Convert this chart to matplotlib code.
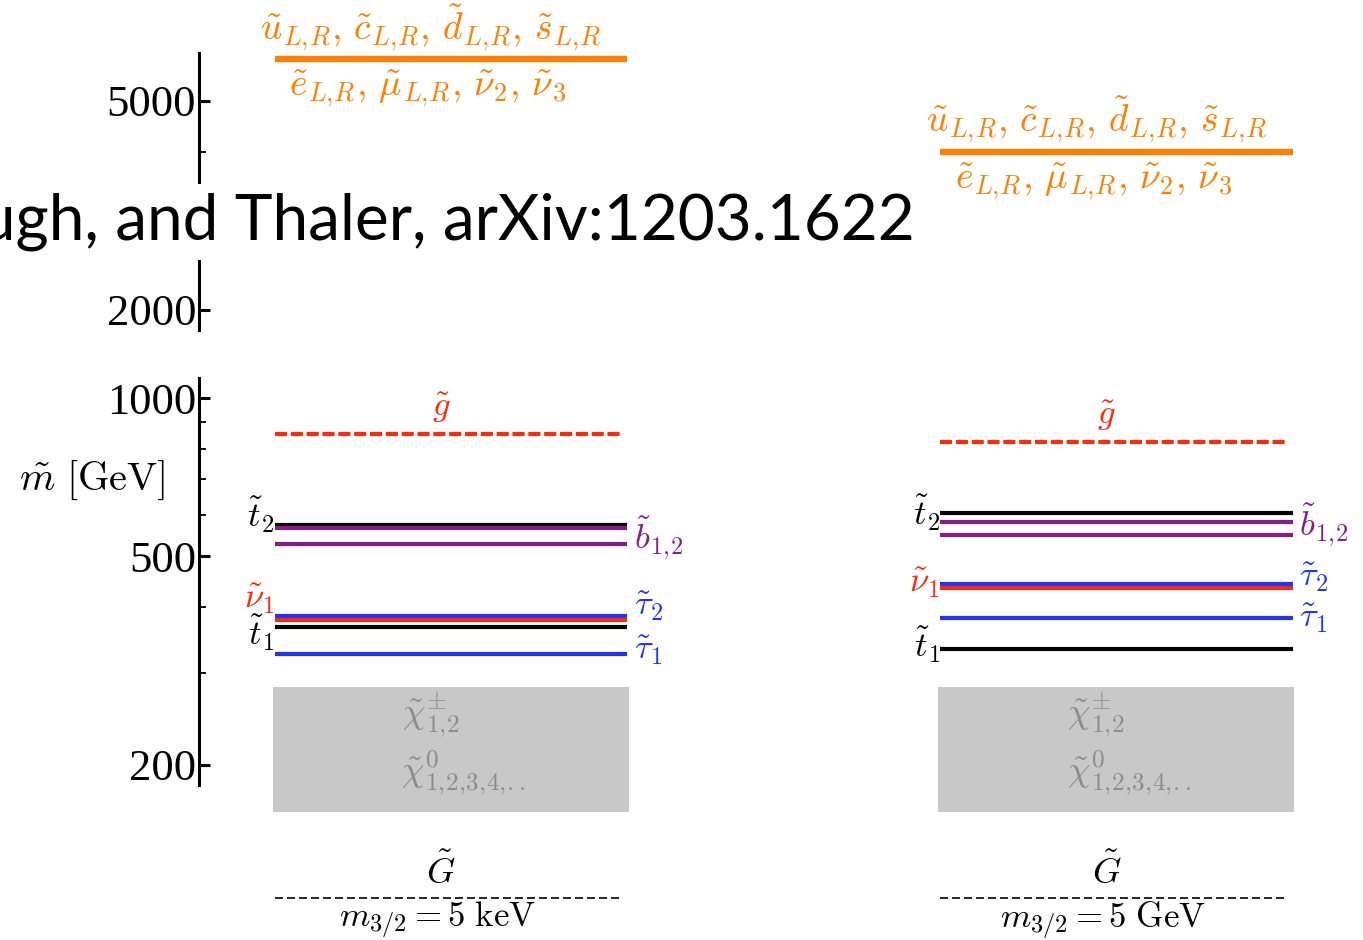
import numpy as np
import matplotlib
matplotlib.use("Agg")
import matplotlib.pyplot as plt

plt.rcParams['mathtext.fontset'] = 'cm'

# mass levels in GeV, two benchmark spectra (m_3/2 = 5 keV, 5 GeV)
columns = [0.0, 2.0]
heavy = [6000, 4000]          # first two generation squarks / sleptons
gluino = [854, 826]
stop2 = [573, 605]
sbottom = [[566, 527], [580, 548]]
stau2 = [385, 443]
snu1 = [378, 434]
stop1 = [367, 332]
stau1 = [325, 381]
ino_band = [163, 282]         # charginos / neutralinos
gravitino = 111.4
m32_labels = [r'$m_{3/2} = 5\ \mathrm{keV}$', r'$m_{3/2} = 5\ \mathrm{GeV}$']

ORANGE = '#FF7F00'
RED = '#FF2A0A'
BLUE = '#2233FF'
PURPLE = '#8A1C8A'
GRAY_BOX = '#C8C8C8'
GRAY_TXT = '#8C8C8C'

W, H = 1363, 940
fig = plt.figure(figsize=(W / 100, H / 100), dpi=100)
xl = (-0.757, 2.741)
hw = 0.53

ax_hi = fig.add_axes([199 / W, 1 - 330 / H, 1164 / W, 277 / H])
ax_lo = fig.add_axes([199 / W, 1 - 785 / H, 1164 / W, 407 / H])

for ax in (ax_hi, ax_lo):
    ax.set_yscale('log')
    ax.set_xlim(*xl)
    ax.patch.set_visible(False)
    for s in ('top', 'right', 'bottom'):
        ax.spines[s].set_visible(False)
    ax.spines['left'].set_linewidth(2.2)
    ax.set_xticks([])
    ax.tick_params(axis='y', which='major', direction='in', length=8, width=2.2, pad=2)
    ax.tick_params(axis='y', which='minor', direction='in', length=5, width=1.3)

ax_hi.set_ylim(1832, 6170)
ax_hi.set_yticks([2000, 5000])
ax_hi.set_yticks([3000, 4000], minor=True)
ax_lo.set_ylim(183.2, 1092)
ax_lo.set_yticks([200, 500, 1000])
ax_lo.set_yticks([300, 400, 600, 700, 800, 900], minor=True)
for ax in (ax_hi, ax_lo):
    ax.set_yticklabels([str(int(t)) for t in ax.get_yticks()],
                       fontfamily='Liberation Serif', fontsize=32)
    ax.set_yticklabels([], minor=True)

lw = 3.0
up_txt = r'$\tilde{u}_{L,\!R},\,\tilde{c}_{L,\!R},\,\tilde{d}_{L,\!R},\,\tilde{s}_{L,\!R}$'
lo_txt = r'$\tilde{e}_{L,\!R},\,\tilde{\mu}_{L,\!R},\,\tilde{\nu}_2,\,\tilde{\nu}_3$'
for i, c in enumerate(columns):
    x0, x1 = c - hw, c + hw
    # heavy scalars
    ax_hi.hlines(heavy[i], x0, x1, color=ORANGE, lw=4.6)
    ax_hi.text(c - 0.06, heavy[i] * 1.03, up_txt,
               color=ORANGE, fontsize=27, ha='center', va='bottom')
    ax_hi.text(c - 0.07, heavy[i] / 1.04, lo_txt,
               color=ORANGE, fontsize=27, ha='center', va='top')

    # gluino
    ax_lo.hlines(gluino[i], x0, x1 - 0.015, color=RED, lw=3.0,
                 linestyles=(0, (2.9, 0.9)))
    ax_lo.text(c - 0.03, gluino[i] * 1.04, r'$\tilde{g}$', color=RED, fontsize=25,
               ha='center', va='bottom')

    # third generation + sneutrino
    ax_lo.hlines(stop2[i], x0, x1, color='black', lw=lw)
    for m in sbottom[i]:
        ax_lo.hlines(m, x0, x1, color=PURPLE, lw=lw)
    ax_lo.hlines(stau2[i], x0, x1, color=BLUE, lw=lw)
    ax_lo.hlines(snu1[i], x0, x1, color=RED, lw=lw)
    ax_lo.hlines(stop1[i], x0, x1, color='black', lw=lw)
    ax_lo.hlines(stau1[i], x0, x1, color=BLUE, lw=lw)

    # chargino / neutralino band
    ax_lo.bar(c, ino_band[1] - ino_band[0], bottom=ino_band[0], width=2 * hw + 0.01,
              color=GRAY_BOX, clip_on=False, zorder=0)
    ax_lo.text(c - 0.06, 248, r'$\tilde{\chi}^{\pm}_{1,\!2}$', color=GRAY_TXT,
               fontsize=26, ha='center', va='center')
    ax_lo.text(c - 0.15, 193, r'$\tilde{\chi}^{0}_{1,\!2,\!3,\!4,\!..}$', color=GRAY_TXT,
               fontsize=26, ha='left', va='center')

    # gravitino
    ax_lo.hlines(gravitino, x0, x1 - 0.02, color='black', lw=1.2,
                 linestyles=(0, (4.8, 2.4)), clip_on=False)
    ax_lo.text(c - 0.03, gravitino * 1.035, r'$\tilde{G}$', color='black', fontsize=26,
               ha='center', va='bottom')
    ax_lo.text(c - 0.04, gravitino / 1.007, m32_labels[i], color='black', fontsize=25,
               ha='center', va='top')

# side labels
ax_lo.text(columns[0] - hw, stop2[0] * 1.045, r'$\tilde{t}_2$', fontsize=25,
           ha='right', va='center')
ax_lo.text(columns[0] - hw, snu1[0] * 1.095, r'$\tilde{\nu}_1$', color=RED, fontsize=25,
           ha='right', va='center')
ax_lo.text(columns[0] - hw, stop1[0] / 1.03, r'$\tilde{t}_1$', fontsize=25,
           ha='right', va='center')
ax_lo.text(columns[0] + hw + 0.02, sbottom[0][1] * 1.03, r'$\tilde{b}_{1,\!2}$',
           color=PURPLE, fontsize=25, ha='left', va='center')
ax_lo.text(columns[0] + hw + 0.02, stau2[0] * 1.045, r'$\tilde{\tau}_2$', color=BLUE,
           fontsize=25, ha='left', va='center')
ax_lo.text(columns[0] + hw + 0.02, stau1[0] * 1.02, r'$\tilde{\tau}_1$', color=BLUE,
           fontsize=25, ha='left', va='center')

ax_lo.text(columns[1] - hw, stop2[1] * 1.0, r'$\tilde{t}_2$', fontsize=25,
           ha='right', va='center')
ax_lo.text(columns[1] - hw, snu1[1] * 1.025, r'$\tilde{\nu}_1$', color=RED, fontsize=25,
           ha='right', va='center')
ax_lo.text(columns[1] - hw, stop1[1] * 1.02, r'$\tilde{t}_1$', fontsize=25,
           ha='right', va='center')
ax_lo.text(columns[1] + hw + 0.02, sbottom[1][0] * 0.99, r'$\tilde{b}_{1,\!2}$',
           color=PURPLE, fontsize=25, ha='left', va='center')
ax_lo.text(columns[1] + hw + 0.02, stau2[1] * 1.03, r'$\tilde{\tau}_2$', color=BLUE,
           fontsize=25, ha='left', va='center')
ax_lo.text(columns[1] + hw + 0.02, stau1[1] * 1.0, r'$\tilde{\tau}_1$', color=BLUE,
           fontsize=25, ha='left', va='center')

# axis label
fig.text(92 / W, 1 - 480 / H, r'$\tilde{m}\ [\mathrm{GeV}]$', fontsize=29,
         ha='center', va='center')

# overlay citation (cut at left edge)
fig.text(915 / W, 1 - 222 / H, 'ugh, and Thaler, arXiv:1203.1622', fontsize=46,
         family='Lato', ha='right', va='center',
         bbox=dict(facecolor='white', edgecolor='none', pad=6))

fig.savefig('out.png', dpi=100)
